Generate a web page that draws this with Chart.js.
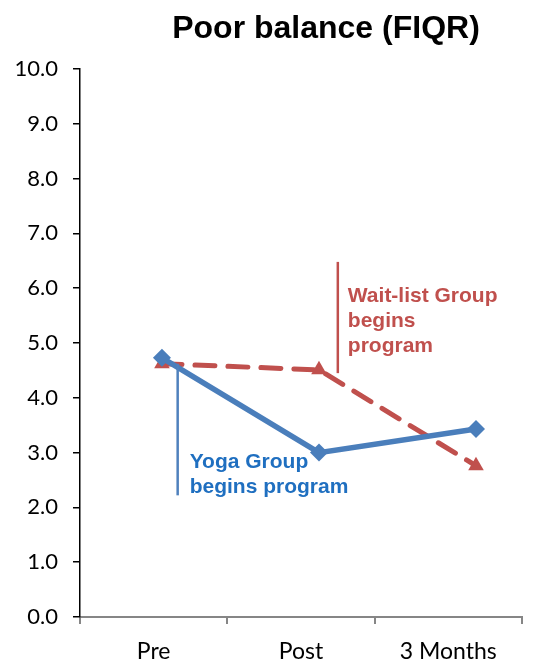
<!DOCTYPE html>
<html>
<head>
<meta charset="utf-8">
<script src="https://cdn.jsdelivr.net/npm/chart.js@4/dist/chart.umd.min.js"></script>
<style>
  html, body { margin: 0; padding: 0; background: #ffffff; }
  #wrap { width: 554px; height: 662px; position: relative; }
</style>
</head>
<body>
<div id="wrap"><canvas id="c" width="554" height="662"></canvas></div>
<script>
// Time points and FIQR "poor balance" scores per group
const timePoints = ['Pre', 'Post', '3 Months'];
const timeIndex = [1, 2, 3];
const yogaScores = [4.73, 3.00, 3.43];
const waitListScores = [4.62, 4.51, 2.76];
const yTicks = [0, 1, 2, 3, 4, 5, 6, 7, 8, 9, 10];

// Program-start markers: [time position, top value, bottom value]
const yogaStart = [1.10, 4.62, 2.22];
const waitListStart = [2.12, 6.48, 4.45];

const BLUE = '#4a7ebb';
const RED = '#c0504d';

const toPoints = vals => vals.map((v, i) => ({ x: timeIndex[i], y: v }));

const notes = {
  id: 'notes',
  afterDatasetsDraw(chart) {
    const { ctx, scales } = chart;
    const xs = scales.xd, ys = scales.y;
    ctx.save();
    // vertical start lines
    [[yogaStart, '#4f81bd'], [waitListStart, RED]].forEach(([m, col]) => {
      const px = xs.getPixelForValue(m[0]);
      ctx.strokeStyle = col;
      ctx.lineWidth = 2.5;
      ctx.beginPath();
      ctx.moveTo(px, ys.getPixelForValue(m[1]));
      ctx.lineTo(px, ys.getPixelForValue(m[2]));
      ctx.stroke();
    });
    ctx.font = 'bold 21px "Liberation Sans", Arial, sans-serif';
    ctx.textBaseline = 'middle';
    ctx.textAlign = 'left';
    ctx.fillStyle = '#1f6fc0';
    const bx = xs.getPixelForValue(yogaStart[0]) + 12;
    ['Yoga Group', 'begins program'].forEach((t, i) => ctx.fillText(t, bx, 462 + i * 25));
    ctx.fillStyle = RED;
    const rx = xs.getPixelForValue(waitListStart[0]) + 10;
    ['Wait-list Group', 'begins', 'program'].forEach((t, i) => ctx.fillText(t, rx, 296 + i * 25));
    // chart title
    ctx.fillStyle = '#000';
    ctx.textAlign = 'center';
    ctx.font = 'bold 32px "Liberation Sans", Arial, sans-serif';
    ctx.fillText('Poor balance (FIQR)', 326, 29);
    ctx.restore();
  }
};

new Chart(document.getElementById('c'), {
  type: 'line',
  data: {
    labels: timePoints,
    datasets: [
      {
        label: 'Yoga Group',
        data: toPoints(yogaScores),
        xAxisID: 'xd',
        borderColor: BLUE,
        backgroundColor: BLUE,
        borderWidth: 5.5,
        pointStyle: 'rectRot',
        pointRadius: 9,
        pointBorderWidth: 0,
        tension: 0
      },
      {
        label: 'Wait-list Group',
        data: toPoints(waitListScores),
        xAxisID: 'xd',
        borderColor: RED,
        backgroundColor: RED,
        borderWidth: 5,
        borderDash: [20, 13],
        borderCapStyle: 'round',
        pointStyle: 'triangle',
        pointRadius: 9,
        pointBorderWidth: 0,
        tension: 0
      }
    ]
  },
  options: {
    responsive: false,
    animation: false,
    layout: { padding: { top: 69, right: 32, left: 0, bottom: 0 } },
    plugins: { legend: { display: false }, tooltip: { enabled: false }, title: { display: false } },
    scales: {
      x: {
        type: 'category',
        offset: true,
        grid: { offset: true, drawOnChartArea: false, drawTicks: true, tickLength: 7, color: '#868686', lineWidth: 2 },
        border: { color: '#868686', width: 2 },
        ticks: { color: '#000', font: { family: 'Lato, "Open Sans", sans-serif', size: 23 }, padding: 14 },
        afterFit: s => { s.height = 45; }
      },
      xd: {
        type: 'linear',
        display: false,
        min: 0.478,
        max: 3.293
      },
      y: {
        min: 0,
        max: 10,
        afterBuildTicks: s => { s.ticks = yTicks.map(v => ({ value: v })); },
        grid: { drawOnChartArea: false, drawTicks: true, tickLength: 7, color: '#000', lineWidth: 1.5 },
        border: { color: '#000', width: 1.5 },
        ticks: {
          color: '#000',
          padding: 15,
          font: { family: 'Lato, "Open Sans", sans-serif', size: 22 },
          callback: v => Number(v).toFixed(1)
        },
        afterFit: s => { s.width = 80; }
      }
    }
  },
  plugins: [notes]
});
</script>
</body>
</html>
